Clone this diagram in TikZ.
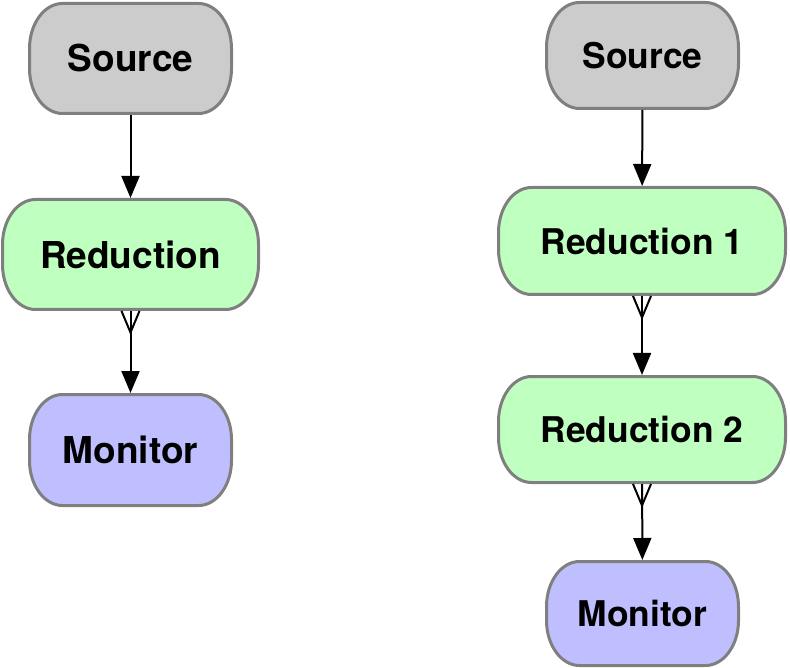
\documentclass[tikz,border=0pt]{standalone}
\usepackage{fontspec}
\setmainfont{TeX Gyre Heros}
\usetikzlibrary{arrows.meta,calc,backgrounds}
\definecolor{boxborder}{HTML}{7F7F7F}
\definecolor{srcfill}{HTML}{CCCCCC}
\definecolor{redfill}{HTML}{BFFFBF}
\definecolor{monfill}{HTML}{BFBFFF}
\tikzset{
  stage/.style={inner sep=0pt, outer sep=0pt, font=\bfseries\fontsize{37}{40}\selectfont},
  smallstage/.style={stage, font=\bfseries\fontsize{35.4}{38}\selectfont},
  outline/.style={draw=boxborder, line width=3pt},
  flow/.style={line width=2pt, shorten <=1.5pt, shorten >=1.5pt,
    -{Triangle[length=22pt,width=18pt]}},
  fanout/.style={line width=2pt},
}
% rounded box with elliptical corners drawn behind a node
\newcommand{\stageshape}[2]{%
  \begin{pgfonlayer}{background}
  \path[outline, fill=#2]
    ($(#1.north west)+(33,0)$) -- ($(#1.north east)+(-33,0)$)
    .. controls ($(#1.north east)+(-14.8,0)$) and ($(#1.north east)+(0,20.2)$) .. ($(#1.north east)+(0,45)$)
    -- ($(#1.south east)+(0,-45)$)
    .. controls ($(#1.south east)+(0,-20.2)$) and ($(#1.south east)+(-14.8,0)$) .. ($(#1.south east)+(-33,0)$)
    -- ($(#1.south west)+(33,0)$)
    .. controls ($(#1.south west)+(14.8,0)$) and ($(#1.south west)+(0,-20.2)$) .. ($(#1.south west)+(0,-45)$)
    -- ($(#1.north west)+(0,45)$)
    .. controls ($(#1.north west)+(0,20.2)$) and ($(#1.north west)+(14.8,0)$) .. cycle;
  \end{pgfonlayer}}
\newcommand{\crowfoot}[1]{%
  \draw[fanout] ($(#1.south)+(-9,1.5)$) -- ($(#1.south)+(0,23)$) -- ($(#1.south)+(9,1.5)$);}
\begin{document}
\begin{tikzpicture}[x=1pt,y=-1pt]
\useasboundingbox (0,0) rectangle (790,668);
% single reduction pipeline
\node[stage, minimum width=202pt, minimum height=110pt] (srcA) at (130.5,58.5) {Source};
\node[stage, minimum width=256pt, minimum height=110pt] (redA) at (130.5,254.5) {Reduction};
\node[stage, minimum width=202pt, minimum height=111pt] (monA) at (130.5,450) {Monitor};
\stageshape{srcA}{srcfill}
\stageshape{redA}{redfill}
\stageshape{monA}{monfill}
\draw[flow] (srcA) -- (redA);
\draw[flow] (redA) -- (monA);
\crowfoot{redA}
% two-stage reduction pipeline
\node[smallstage, minimum width=192pt, minimum height=106pt] (srcB) at (642.5,55.5) {Source};
\node[smallstage, minimum width=287pt, minimum height=107pt] (redB) at (642,241) {Reduction 1};
\node[smallstage, minimum width=287pt, minimum height=106pt] (redC) at (642,429.5) {Reduction 2};
\node[smallstage, minimum width=192pt, minimum height=104pt] (monB) at (642.5,613.5) {Monitor};
\stageshape{srcB}{srcfill}
\stageshape{redB}{redfill}
\stageshape{redC}{redfill}
\stageshape{monB}{monfill}
\draw[flow] (srcB) -- (redB);
\draw[flow] (redB) -- (redC);
\draw[flow] (redC) -- (monB);
\crowfoot{redB}
\crowfoot{redC}
\end{tikzpicture}
\end{document}
